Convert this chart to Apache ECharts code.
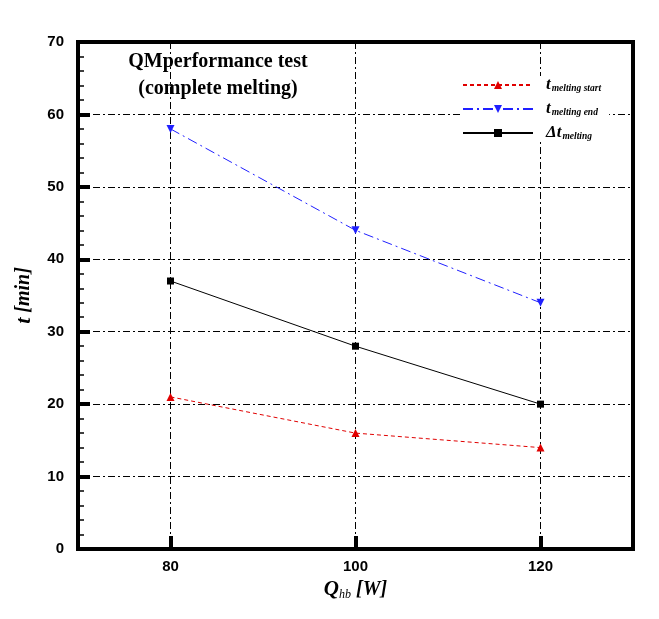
<!DOCTYPE html>
<html><head><meta charset="utf-8">
<script src="https://cdn.jsdelivr.net/npm/echarts@6/dist/echarts.min.js"></script>
<style>html,body{margin:0;padding:0;background:#fff}#c{width:659px;height:619px}</style>
</head><body><div id="c"></div>
<script>
const powers = [80, 100, 120];
const xTicks = [80, 100, 120];
const tStart = [21, 16, 14];
const tEnd = [58, 44, 34];
const dT = [37, 28, 20];
const titleLines = ['QMperformance test', '(complete melting)'];

const chart = echarts.init(document.getElementById('c'));
const pairs = a => powers.map((p, i) => [p, a[i]]);
const serif = '"Liberation Serif", "DejaVu Serif", serif';
const sans = '"Liberation Sans", Arial, sans-serif';
const gridDash = [7, 3, 2, 3];
const legendRich = {
  t: {fontFamily: serif, fontStyle: 'italic', fontWeight: 'bold', fontSize: 17, lineHeight: 16, color: '#000'},
  s: {fontFamily: serif, fontStyle: 'italic', fontWeight: 'bold', fontSize: 9.5, lineHeight: 10, color: '#000', padding: [8, 0, 0, 1]},
  pad: {width: 8}
};
chart.setOption({
  animation: false,
  title: {
    text: titleLines.join('\n'), left: 213, top: 43, textAlign: 'center',
    textStyle: {fontFamily: serif, fontSize: 20, fontWeight: 'bold', color: '#000', lineHeight: 27}
  },
  legend: {
    orient: 'vertical', left: 462, top: 76, itemWidth: 70, itemHeight: 10, itemGap: 6,
    padding: [0, 8, 0, 0], backgroundColor: '#fff',
    data: ['start', 'end', 'delta'],
    formatter: n => n === 'start' ? '{pad|}{t|t}{s|melting start}' : n === 'end' ? '{pad|}{t|t}{s|melting end}' : '{pad|}{t|Δt}{s|melting}',
    textStyle: {rich: legendRich}
  },
  grid: {left: 78, right: 26, top: 42, bottom: 70, show: true, borderColor: '#000', borderWidth: 4},
  xAxis: {
    type: 'value', min: 70, max: 130,
    name: '{q|Q}{s|hb}{b| [W]}', nameLocation: 'middle', nameGap: 27,
    nameTextStyle: {rich: {
      q: {fontFamily: serif, fontStyle: 'italic', fontWeight: 'bold', fontSize: 21, color: '#000'},
      s: {fontFamily: serif, fontStyle: 'italic', fontSize: 12, color: '#000', padding: [10, 0, 0, 0]},
      b: {fontFamily: serif, fontStyle: 'italic', fontWeight: 'bold', fontSize: 20, color: '#000'}
    }},
    axisLine: {lineStyle: {color: '#000', width: 4}},
    axisTick: {show: true, inside: true, length: 13, customValues: xTicks, lineStyle: {color: '#000', width: 4}},
    axisLabel: {customValues: xTicks, margin: 10, fontFamily: sans, fontWeight: 'bold', fontSize: 15, color: '#000'},
    splitLine: {show: true, customValues: xTicks, lineStyle: {color: '#000', width: 1, type: gridDash}}
  },
  yAxis: {
    type: 'value', min: 0, max: 70, interval: 10,
    name: '{t|t}{b| [min]}', nameLocation: 'middle', nameGap: 43,
    nameTextStyle: {rich: {
      t: {fontFamily: serif, fontStyle: 'italic', fontWeight: 'bold', fontSize: 22, color: '#000'},
      b: {fontFamily: serif, fontStyle: 'italic', fontWeight: 'bold', fontSize: 20, color: '#000'}
    }},
    axisLine: {lineStyle: {color: '#000', width: 4}},
    axisTick: {show: true, inside: true, length: 12, lineStyle: {color: '#000', width: 4}},
    minorTick: {show: true, splitNumber: 5, length: 6, lineStyle: {color: '#000', width: 1.5}},
    axisLabel: {margin: 14, fontFamily: sans, fontWeight: 'bold', fontSize: 15, color: '#000'},
    splitLine: {show: true, lineStyle: {color: '#000', width: 1, type: gridDash}}
  },
  series: [
    {name: 'start', type: 'line', data: pairs(tStart), symbol: 'triangle', symbolSize: 8,
     lineStyle: {color: '#e00000', width: 1, type: [4, 3]}, itemStyle: {color: '#e00000'}},
    {name: 'end', type: 'line', data: pairs(tEnd), symbol: 'triangle', symbolRotate: 180, symbolSize: 8,
     lineStyle: {color: '#2020ff', width: 1, type: [10, 4, 2, 4]}, itemStyle: {color: '#2020ff'}},
    {name: 'delta', type: 'line', data: pairs(dT), symbol: 'rect', symbolSize: 7,
     lineStyle: {color: '#000', width: 1}, itemStyle: {color: '#000'}}
  ]
});
</script></body></html>
